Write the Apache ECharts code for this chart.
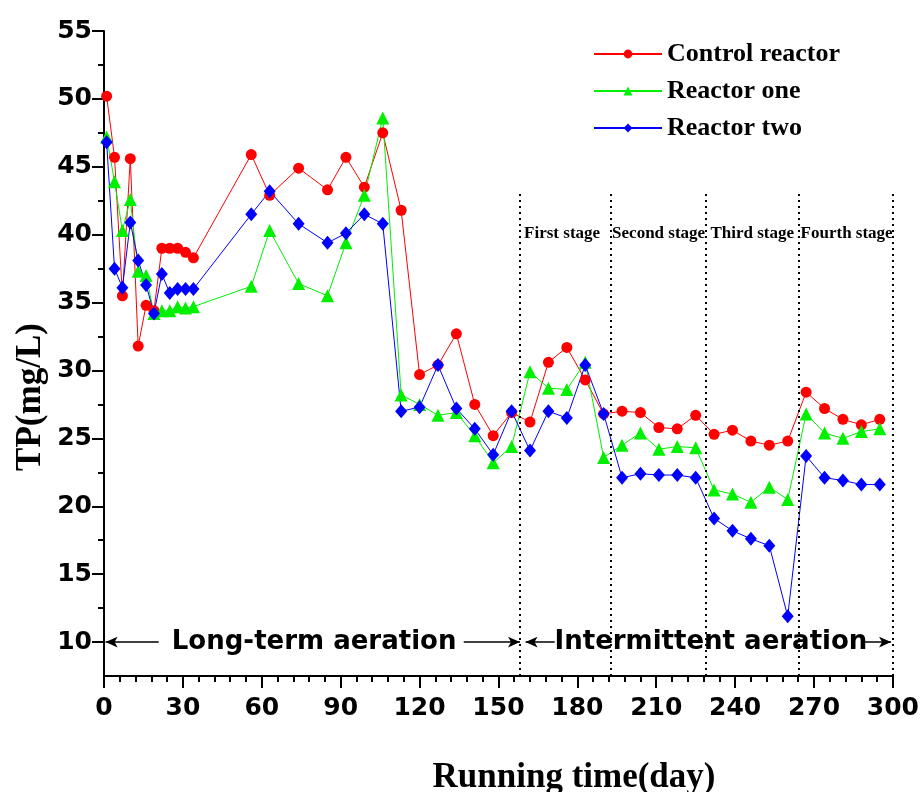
<!DOCTYPE html>
<html>
<head>
<meta charset="utf-8">
<script src="https://cdn.jsdelivr.net/npm/echarts@6.0.0/dist/echarts.min.js"></script>
<style>
  html, body { margin: 0; padding: 0; background: #fff; }
  #main { width: 922px; height: 792px; }
</style>
</head>
<body>
<div id="main"></div>
<script>
// running time (day)
const days = [1, 4, 7, 10, 13, 16, 19, 22, 25, 28, 31, 34, 56, 63, 74, 85, 92, 99, 106, 113, 120, 127, 134, 141, 148,
  155, 162, 169, 176, 183, 190, 197, 204, 211, 218, 225, 232, 239, 246, 253, 260, 267, 274, 281, 288, 295]

// TP (mg/L)
const controlReactor = [50.2, 45.7, 35.5, 45.6, 31.8, 34.8, 34.4, 39.0, 39.0, 39.0, 38.7, 38.3, 45.9, 42.9, 44.9, 43.3, 45.7, 43.5, 47.5, 41.8, 29.7, 30.4, 32.7, 27.5, 25.2,
  26.9, 26.2, 30.6, 31.7, 29.3, 26.8, 27.0, 26.9, 25.8, 25.7, 26.7, 25.3, 25.6, 24.8, 24.5, 24.8, 28.4, 27.2, 26.4, 26.0, 26.4]
const reactorOne = [47.2, 43.9, 40.3, 42.6, 37.3, 37.0, 34.2, 34.4, 34.4, 34.7, 34.6, 34.7, 36.2, 40.3, 36.4, 35.5, 39.4, 42.9, 48.6, 28.2, 27.5, 26.7, 26.9, 25.2, 23.2,
  24.4, 29.9, 28.7, 28.6, 30.6, 23.6, 24.5, 25.4, 24.2, 24.4, 24.3, 21.2, 20.9, 20.3, 21.4, 20.5, 26.8, 25.4, 25.0, 25.5, 25.7]
const reactorTwo = [46.8, 37.5, 36.1, 40.9, 38.1, 36.3, 34.2, 37.1, 35.7, 36.0, 36.0, 36.0, 41.5, 43.2, 40.8, 39.4, 40.1, 41.5, 40.8, 27.0, 27.3, 30.4, 27.2, 25.7, 23.8,
  27.0, 24.1, 27.0, 26.5, 30.4, 26.8, 22.1, 22.4, 22.3, 22.3, 22.1, 19.1, 18.2, 17.6, 17.1, 11.9, 23.7, 22.1, 21.9, 21.6, 21.6]

const yMajorTicks = [10, 15, 20, 25, 30, 35, 40, 45, 50, 55]
const yMinorTicks = [12.5, 17.5, 22.5, 27.5, 32.5, 37.5, 42.5, 47.5, 52.5]

// stage boundaries (day) and stage names
const stageBounds = [158.2, 192.6, 228.9, 264.1, 300]
const stageNames = ['First stage', 'Second stage', 'Third stage', 'Fourth stage']
const stageLabelDays = [174.2, 210.9, 246.5, 282.4]
const stageLineTop = 43.2
const stageLabelLevel = 40.1

// aeration annotations at TP = 10
const aerationNames = ['Long-term aeration', 'Intermittent aeration']
const aerationLabelDays = [79.9, 230.8]
const aerationArrows = [[20.8, 0.6], [136.8, 158.2], [171.4, 160.3], [288.7, 299.3]]
const aerationLevel = 10

const pairs = (vals) => days.map((d, i) => [d, vals[i]])

const serif = '"Liberation Serif", "Times New Roman", serif'
const sans = '"DejaVu Sans", sans-serif'

const textLabel = (family, size) => ({
    show: true,
    position: 'inside',
    formatter: '{b}',
    fontFamily: family,
    fontWeight: 'bold',
    fontSize: size,
    color: '#000',
    opacity: 1,
    textBorderWidth: 0
})

var myChart = echarts.init(document.getElementById('main'))
const option = {
    backgroundColor: '#fff',
    animation: false,
    grid: {
        left: 104,
        right: 25,
        top: 31,
        bottom: 116
    },
    legend: {
        data: ['Control reactor', 'Reactor one', 'Reactor two'],
        orient: 'vertical',
        left: 588,
        top: 36,
        itemWidth: 68,
        itemHeight: 11,
        itemGap: 11,
        textStyle: {
            fontFamily: serif,
            fontWeight: 'bold',
            fontSize: 26,
            lineHeight: 26,
            color: '#000'
        }
    },
    xAxis: {
        type: 'value',
        min: 0,
        max: 300,
        interval: 30,
        axisLine: { lineStyle: { color: '#000', width: 2 } },
        axisTick: { inside: false, length: 12, lineStyle: { color: '#000', width: 2 } },
        minorTick: { show: true, splitNumber: 5, length: 6, lineStyle: { color: '#000', width: 2 } },
        axisLabel: {
            margin: 20,
            fontFamily: sans,
            fontWeight: 'bold',
            fontSize: 25,
            color: '#000'
        },
        splitLine: { show: false }
    },
    yAxis: [
        {
            type: 'value',
            min: 7.5,
            max: 55,
            axisLine: { show: true, lineStyle: { color: '#000', width: 2 } },
            axisTick: { show: true, inside: false, length: 12, customValues: yMajorTicks, lineStyle: { color: '#000', width: 2 } },
            axisLabel: {
                customValues: yMajorTicks,
                margin: 12,
                fontFamily: sans,
                fontWeight: 'bold',
                fontSize: 25,
                color: '#000'
            },
            splitLine: { show: false }
        },
        {
            // minor ticks only
            type: 'value',
            position: 'left',
            min: 7.5,
            max: 55,
            axisLine: { show: false },
            axisTick: { show: true, inside: false, length: 6, customValues: yMinorTicks, lineStyle: { color: '#000', width: 2 } },
            axisLabel: { show: false },
            splitLine: { show: false }
        }
    ],
    graphic: [
        {
            type: 'text',
            x: 574,
            y: 778,
            style: {
                text: 'Running time(day)',
                font: 'bold 35px ' + serif,
                fill: '#000',
                textAlign: 'center',
                textVerticalAlign: 'middle'
            }
        },
        {
            type: 'text',
            x: 31,
            y: 397,
            rotation: Math.PI / 2,
            style: {
                text: 'TP(mg/L)',
                font: 'bold 35px ' + serif,
                fill: '#000',
                textAlign: 'center',
                textVerticalAlign: 'middle'
            }
        }
    ],
    series: [
        {
            name: 'Control reactor',
            type: 'line',
            data: pairs(controlReactor),
            symbol: 'circle',
            symbolSize: 11,
            color: '#ff0000',
            lineStyle: { width: 1 }
        },
        {
            name: 'Reactor one',
            type: 'line',
            data: pairs(reactorOne),
            symbol: 'triangle',
            symbolSize: 13,
            color: '#00f000',
            lineStyle: { width: 1 }
        },
        {
            name: 'Reactor two',
            type: 'line',
            data: pairs(reactorTwo),
            symbol: 'diamond',
            symbolSize: [12, 14],
            color: '#0000ff',
            lineStyle: { width: 1 }
        },
        {
            // stage separators and aeration arrows
            name: 'annotations',
            type: 'scatter',
            data: [],
            silent: true,
            markLine: {
                silent: true,
                animation: false,
                label: { show: false },
                data: stageBounds.map(d => [
                    { coord: [d, 7.5], symbol: 'none', lineStyle: { type: [2, 4], color: '#000', width: 2 } },
                    { coord: [d, stageLineTop], symbol: 'none' }
                ]).concat(aerationArrows.map(a => [
                    { coord: [a[0], aerationLevel], symbol: 'none', lineStyle: { type: 'solid', color: '#000', width: 1.5 } },
                    { coord: [a[1], aerationLevel], symbol: 'arrow', symbolSize: [8, 12] }
                ]))
            }
        },
        {
            name: 'stage labels',
            type: 'scatter',
            silent: true,
            z: 10,
            symbolSize: 0,
            itemStyle: { color: '#000' },
            data: stageNames.map((n, i) => ({ name: n, value: [stageLabelDays[i], stageLabelLevel] })),
            label: textLabel(serif, 17)
        },
        {
            name: 'aeration labels',
            type: 'scatter',
            silent: true,
            z: 10,
            symbolSize: 0,
            itemStyle: { color: '#000' },
            data: aerationNames.map((n, i) => ({ name: n, value: [aerationLabelDays[i], aerationLevel] })),
            label: textLabel(sans, 26)
        }
    ]
};
myChart.setOption(option)
</script>
</body>
</html>
